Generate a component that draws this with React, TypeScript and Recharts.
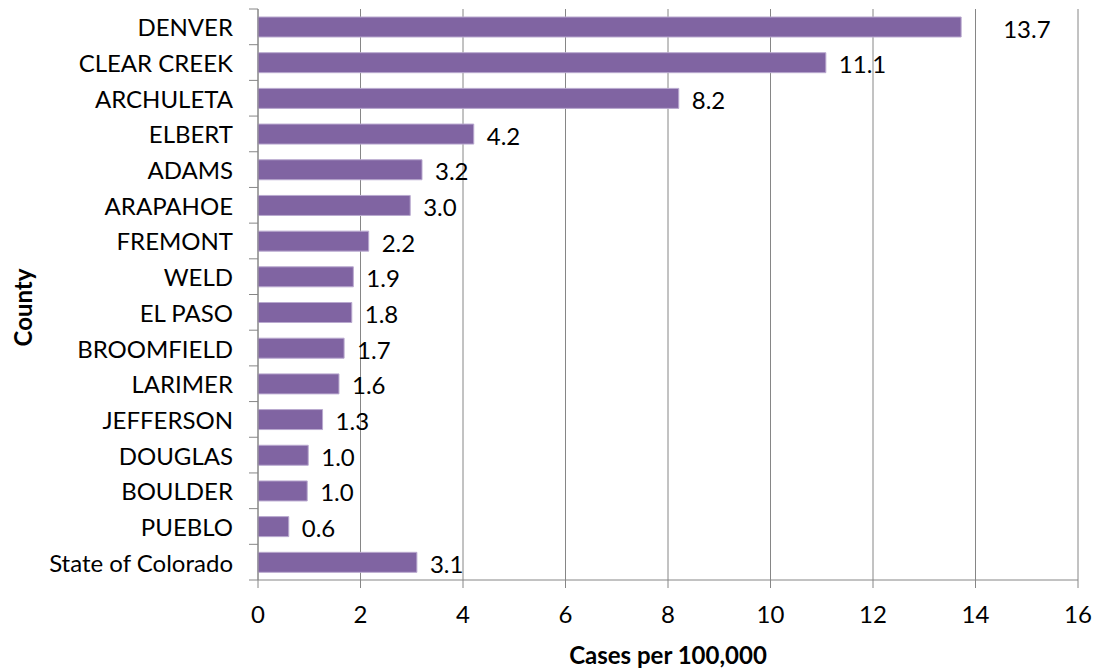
import { BarChart, Bar, XAxis, YAxis, CartesianGrid, LabelList, Label } from 'recharts'

document.body.style.margin = '0'

const counties = [
  'DENVER',
  'CLEAR CREEK',
  'ARCHULETA',
  'ELBERT',
  'ADAMS',
  'ARAPAHOE',
  'FREMONT',
  'WELD',
  'EL PASO',
  'BROOMFIELD',
  'LARIMER',
  'JEFFERSON',
  'DOUGLAS',
  'BOULDER',
  'PUEBLO',
  'State of Colorado',
]
const rates = [13.72, 11.08, 8.21, 4.21, 3.2, 2.97, 2.16, 1.86, 1.83, 1.68, 1.58, 1.26, 0.98, 0.96, 0.6, 3.1]
const xTicks = [0, 2, 4, 6, 8, 10, 12, 14, 16]

const data = counties.map((county, i) => ({ county, rate: rates[i] }))
const maxRate = Math.max(...rates)

const FONT = 'Lato, "Open Sans", sans-serif'
const FS = 24
const GRID = '#868686'
const TICK = 9
const GAP = 16

function CountyTick(props: any) {
  const { x, y, payload, index } = props
  const half = payload?.offset ?? 571 / 32
  const axisX = x + GAP + TICK
  return (
    <g>
      <text x={x} y={y} textAnchor="end" dominantBaseline="central" fontFamily={FONT} fontSize={FS} fill="#000">
        {payload.value}
      </text>
      <line x1={axisX - TICK} x2={axisX} y1={y - half} y2={y - half} stroke={GRID} />
      {index === counties.length - 1 && (
        <line x1={axisX - TICK} x2={axisX} y1={y + half} y2={y + half} stroke={GRID} />
      )}
    </g>
  )
}

function RateLabel(props: any) {
  const { x, y, width, height, value } = props
  const gap = value === maxRate ? 42 : 13
  return (
    <text
      x={Number(x) + Number(width) + gap}
      y={Number(y) + Number(height) / 2 + 1}
      dominantBaseline="central"
      fontFamily={FONT}
      fontSize={FS}
      fill="#000"
    >
      {Number(value).toFixed(1)}
    </text>
  )
}

export default function App() {
  return (
    <BarChart
      width={1099}
      height={672}
      data={data}
      layout="vertical"
      margin={{ top: 9, right: 21, bottom: 0, left: 0 }}
    >
      <CartesianGrid horizontal={false} vertical stroke={GRID} />
      <XAxis
        type="number"
        domain={[0, 16]}
        ticks={xTicks}
        interval={0}
        height={92}
        tickSize={8}
        tickMargin={18}
        axisLine={{ stroke: GRID }}
        tickLine={{ stroke: GRID }}
        tick={{ fill: '#000', fontSize: FS, fontFamily: FONT }}
      >
        <Label
          content={(p: any) => {
            const vb = p.viewBox
            return (
              <text
                x={vb.x + vb.width / 2}
                y={vb.y + 84}
                textAnchor="middle"
                fontFamily={FONT}
                fontWeight="bold"
                fontSize={FS}
                fill="#000"
              >
                Cases per 100,000
              </text>
            )
          }}
        />
      </XAxis>
      <YAxis
        type="category"
        dataKey="county"
        width={258}
        tickSize={TICK}
        tickMargin={GAP}
        interval={0}
        axisLine={{ stroke: GRID }}
        tickLine={false}
        tick={<CountyTick />}
      >
        <Label
          content={(p: any) => {
            const vb = p.viewBox
            const cx = 22
            const cy = vb.y + vb.height / 2 + 13
            return (
              <text
                x={cx}
                y={cy}
                transform={`rotate(-90, ${cx}, ${cy})`}
                textAnchor="middle"
                dominantBaseline="central"
                fontFamily={FONT}
                fontWeight="bold"
                fontSize={FS}
                fill="#000"
              >
                County
              </text>
            )
          }}
        />
      </YAxis>
      <Bar dataKey="rate" fill="#8064A2" stroke="#b9a9cf" strokeWidth={1} barSize={20} isAnimationActive={false}>
        <LabelList dataKey="rate" content={<RateLabel />} />
      </Bar>
    </BarChart>
  )
}
